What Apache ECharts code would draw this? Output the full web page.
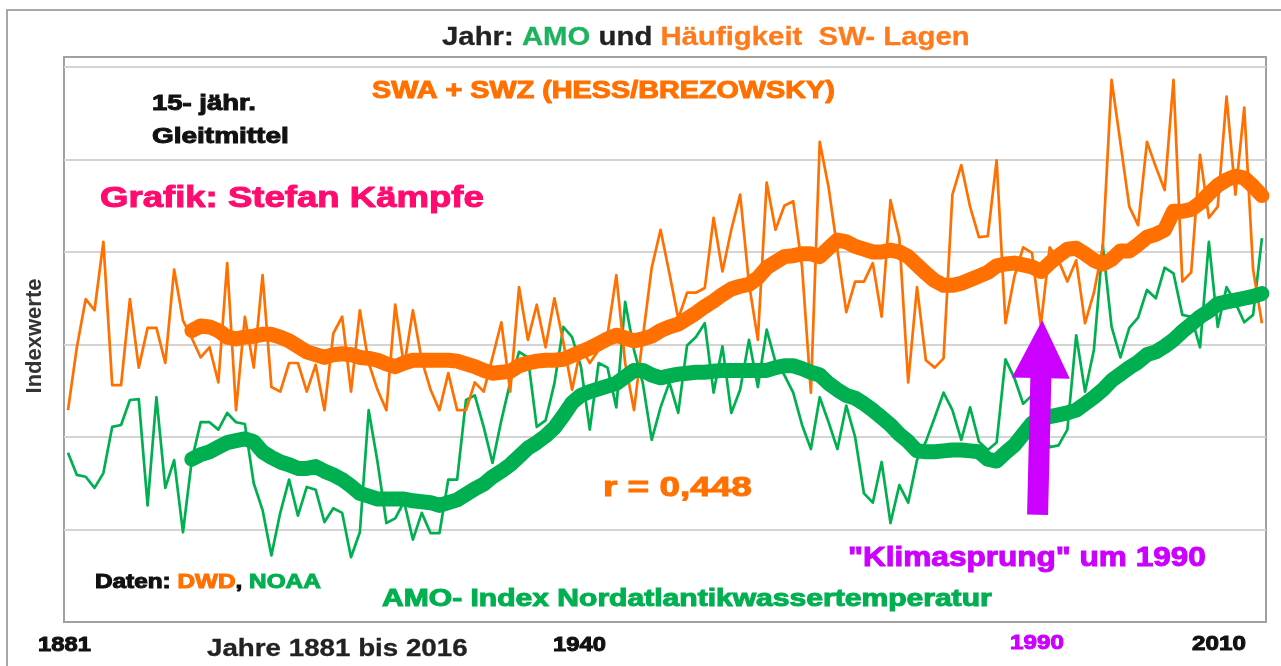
<!DOCTYPE html>
<html>
<head>
<meta charset="utf-8">
<script src="https://cdn.jsdelivr.net/npm/echarts@6/dist/echarts.min.js"></script>
<style>
html,body{margin:0;padding:0;background:#fff;}
#c{width:1281px;height:666px;}
</style>
</head>
<body>
<div id="c"></div>
<script>
// ---------------- DATA ----------------
const firstYear = 1881;
const lastYear = 2016;
const maFirstYear = 1895;

// SWA + SWZ (Hess/Brezowsky), annual, index units
const swLagen = [
  2.29, 2.97, 3.49, 3.37, 4.11, 2.56, 2.56, 3.49, 2.75, 3.18,
  3.18, 2.80, 3.81, 3.26, 3.07, 2.86, 2.97, 2.59, 3.88, 2.29,
  3.30, 2.75, 3.75, 2.54, 2.49, 2.80, 2.80, 2.49, 2.78, 2.29,
  3.12, 3.30, 2.49, 3.37, 2.80, 2.51, 2.29, 3.43, 2.76, 3.37,
  2.83, 2.51, 2.29, 2.69, 2.29, 2.29, 2.59, 2.49, 2.86, 3.24,
  2.49, 3.62, 3.05, 3.43, 2.97, 3.50, 3.03, 2.51, 2.97, 2.80,
  2.94, 3.10, 3.75, 2.80, 2.29, 3.08, 3.83, 4.24, 3.77, 3.28,
  3.56, 3.56, 3.61, 4.37, 3.79, 4.24, 4.62, 3.66, 3.05, 4.75,
  4.24, 4.50, 4.55, 3.84, 2.48, 5.19, 4.70, 4.02, 3.35, 3.68,
  3.68, 3.88, 3.30, 4.56, 4.15, 2.59, 3.62, 2.83, 2.75, 2.85,
  4.62, 4.94, 4.49, 4.16, 4.17, 4.99, 3.23, 3.73, 4.05, 3.99,
  3.21, 4.05, 3.91, 3.68, 3.91, 3.23, 3.56, 4.05, 5.86, 5.18,
  4.49, 4.29, 5.19, 4.92, 4.67, 5.86, 3.68, 3.78, 5.05, 4.37,
  4.49, 5.68, 4.62, 5.56, 3.81, 3.23
];

// AMO index (NOAA), annual, index units
const amo = [
  1.83, 1.59, 1.57, 1.45, 1.61, 2.11, 2.13, 2.40, 2.41, 1.26,
  2.43, 1.45, 1.75, 0.97, 1.75, 2.16, 2.16, 2.08, 2.26, 2.16,
  2.14, 1.50, 1.21, 0.72, 1.18, 1.54, 1.15, 1.46, 1.43, 1.08,
  1.23, 1.18, 0.70, 0.97, 2.29, 1.73, 1.07, 1.12, 1.30, 0.89,
  1.18, 0.96, 0.96, 1.54, 1.54, 2.40, 2.45, 2.11, 1.72, 2.18,
  2.59, 2.92, 2.86, 2.11, 2.18, 2.58, 3.19, 3.08, 2.76, 2.08,
  2.80, 2.75, 2.32, 3.46, 2.94, 2.58, 1.97, 2.32, 2.59, 2.26,
  2.99, 3.08, 3.23, 2.48, 2.98, 2.26, 2.51, 3.05, 2.54, 3.16,
  2.81, 2.67, 2.48, 2.13, 1.87, 2.43, 2.16, 1.87, 2.34, 2.00,
  1.39, 1.29, 1.73, 1.07, 1.48, 1.29, 1.75, 1.95, 2.21, 2.48,
  2.29, 1.97, 2.32, 1.95, 1.86, 1.94, 2.84, 2.64, 2.36, 2.45,
  2.18, 1.89, 1.91, 2.08, 3.10, 2.49, 2.94, 4.08, 3.19, 2.86,
  3.18, 3.29, 3.59, 3.50, 3.83, 3.77, 3.32, 3.30, 2.97, 4.11,
  3.19, 3.62, 3.45, 3.24, 3.32, 4.15
];

// 15-year moving averages (1895-2016), as drawn
const swLagenMA15 = [
  3.15, 3.20, 3.19, 3.15, 3.08, 3.06, 3.08, 3.09, 3.11, 3.11,
  3.08, 3.04, 2.98, 2.92, 2.89, 2.86, 2.89, 2.90, 2.89, 2.86,
  2.85, 2.83, 2.79, 2.76, 2.80, 2.83, 2.83, 2.83, 2.83, 2.83,
  2.82, 2.79, 2.76, 2.72, 2.69, 2.70, 2.71, 2.77, 2.80, 2.82,
  2.83, 2.83, 2.84, 2.88, 2.92, 2.96, 3.01, 3.06, 3.10, 3.07,
  3.04, 3.06, 3.09, 3.15, 3.19, 3.22, 3.28, 3.34, 3.41, 3.47,
  3.54, 3.60, 3.63, 3.65, 3.72, 3.83, 3.89, 3.95, 3.96, 3.98,
  3.98, 3.95, 4.04, 4.13, 4.11, 4.06, 4.03, 4.00, 4.00, 4.02,
  4.00, 3.95, 3.86, 3.77, 3.69, 3.64, 3.64, 3.66, 3.70, 3.74,
  3.78, 3.85, 3.87, 3.88, 3.86, 3.84, 3.79, 3.88, 3.96, 4.03,
  4.04, 3.98, 3.91, 3.87, 3.92, 4.01, 4.01, 4.08, 4.16, 4.19,
  4.24, 4.44, 4.44, 4.46, 4.53, 4.63, 4.72, 4.78, 4.82, 4.80,
  4.71, 4.61
];

const amoMA15 = [
  1.76, 1.81, 1.84, 1.89, 1.94, 1.96, 1.98, 1.95, 1.84, 1.78,
  1.73, 1.70, 1.66, 1.66, 1.68, 1.63, 1.59, 1.54, 1.47, 1.39,
  1.36, 1.33, 1.33, 1.33, 1.33, 1.31, 1.30, 1.29, 1.26, 1.29,
  1.32, 1.38, 1.44, 1.49, 1.57, 1.63, 1.70, 1.79, 1.88, 1.94,
  2.01, 2.10, 2.23, 2.37, 2.45, 2.49, 2.52, 2.55, 2.58, 2.65,
  2.72, 2.72, 2.67, 2.64, 2.66, 2.68, 2.69, 2.70, 2.70, 2.71,
  2.72, 2.72, 2.72, 2.72, 2.72, 2.72, 2.75, 2.77, 2.77, 2.74,
  2.70, 2.67, 2.58, 2.51, 2.45, 2.42, 2.36, 2.29, 2.21, 2.13,
  2.03, 1.95, 1.85, 1.84, 1.84, 1.85, 1.86, 1.86, 1.85, 1.84,
  1.76, 1.74, 1.83, 1.91, 2.03, 2.15, 2.18, 2.22, 2.24, 2.26,
  2.29, 2.36, 2.43, 2.51, 2.61, 2.68, 2.75, 2.81, 2.89, 2.92,
  2.98, 3.05, 3.14, 3.22, 3.30, 3.36, 3.44, 3.46, 3.48, 3.50,
  3.52, 3.55
];

const xTickLabels = ['1881', '1940', '1990', '2010'];
// "Klimasprung" arrow, in data coordinates [year, index]
const arrowFrom = [1990.63, 1.16];
const arrowTo = [1991.08, 2.95];

// ---------------- BUILD ----------------
const years = [];
for (let y = firstYear; y <= lastYear; y++) years.push(y);
const toPairs = (arr, start) => arr.map((v, i) => [start + i, v]);

const ORANGE = '#ff7000';
const GREEN = '#00b050';
const MAGENTA = '#cc00ff';
const PINK = '#ff0a6e';
const FAM = '"Liberation Sans", Arial, sans-serif';

const mctx = document.createElement('canvas').getContext('2d');
function textEl(segs, x0, x1, cy, size, heavy) {
  const font = 'bold ' + size + 'px ' + FAM;
  mctx.font = font;
  const plain = segs.map(s => s[0]).join('');
  const w = mctx.measureText(plain).width + heavy;
  const rich = {};
  let txt = '';
  segs.forEach((s, i) => {
    const r = { fill: s[1], fontSize: size, fontWeight: 'bold', fontFamily: FAM };
    if (heavy > 0) { r.stroke = s[1]; r.lineWidth = heavy; }
    rich['s' + i] = r;
    txt += '{s' + i + '|' + s[0] + '}';
  });
  return {
    type: 'text', x: x0, y: cy, scaleX: (x1 - x0) / w, z: 100, silent: true,
    style: { text: txt, rich: rich, fontSize: size, fontWeight: 'bold', fontFamily: FAM, align: 'left', verticalAlign: 'middle' }
  };
}

const graphics = [
  { type: 'rect', z: 0, silent: true, shape: { x: 7, y: 10, width: 1400, height: 700 },
    style: { fill: null, stroke: '#a8a8a8', lineWidth: 2 } },
  textEl([['Jahr: ', '#222'], ['AMO', '#1db35c'], [' und ', '#222'], ['Häufigkeit  SW- Lagen', '#ff7a1a']], 442, 970, 38, 25, 0.3),
  textEl([['SWA + SWZ (HESS/BREZOWSKY)', ORANGE]], 372, 836, 92, 23, 1),
  textEl([['15- jähr.', '#111']], 152, 257, 104, 22, 1),
  textEl([['Gleitmittel', '#111']], 152, 290, 137, 22, 1),
  textEl([['Grafik: Stefan Kämpfe', PINK]], 100, 485, 199, 30, 1),
  textEl([['r = 0,448', ORANGE]], 603, 753, 488, 28, 1),
  textEl([['"Klimasprung" um 1990', MAGENTA]], 848, 1207, 558, 28, 1),
  textEl([['Daten: ', '#111'], ['DWD', ORANGE], [', ', '#111'], ['NOAA', GREEN]], 95, 322, 583, 19.5, 1),
  textEl([['AMO- Index Nordatlantikwassertemperatur', GREEN]], 382, 993, 600, 23, 1),
  textEl([[xTickLabels[0], '#111']], 38, 92, 645, 21, 1),
  textEl([['Jahre 1881 bis 2016', '#222']], 207, 468, 650, 23, 0.3),
  textEl([[xTickLabels[1], '#111']], 553, 607, 645, 21, 1),
  textEl([[xTickLabels[2], MAGENTA]], 1010, 1065, 643, 21, 1),
  textEl([[xTickLabels[3], '#111']], 1192, 1247, 644, 21, 1),
  { type: 'text', x: 35, y: 336, rotation: Math.PI / 2, z: 100, silent: true,
    style: { text: 'Indexwerte', fontSize: 22, fontWeight: 'bold', fontFamily: FAM, fill: '#333',
             align: 'center', verticalAlign: 'middle' } }
];

const chart = echarts.init(document.getElementById('c'), null, { renderer: 'canvas' });
chart.setOption({
  animation: false,
  backgroundColor: '#ffffff',
  grid: { left: 64, top: 57, width: 1202, height: 565, show: true, borderColor: '#a0a0a0', borderWidth: 2,
          backgroundColor: 'transparent' },
  xAxis: {
    type: 'value', min: 1880.548, max: 2016.46,
    axisLine: { show: false }, axisTick: { show: false }, axisLabel: { show: false }, splitLine: { show: false }
  },
  yAxis: {
    type: 'value', min: 0, max: 6.108, interval: 1,
    axisLine: { show: false }, axisTick: { show: false }, axisLabel: { show: false },
    splitLine: { show: true, lineStyle: { width: 2,
      color: ['#a0a0a0', '#d4d4d4', '#d4d4d4', '#d4d4d4', '#d4d4d4', '#d4d4d4', '#d4d4d4', '#a0a0a0'] } }
  },
  series: [
    { name: 'AMO', type: 'line', data: toPairs(amo, firstYear), showSymbol: false, z: 2,
      lineStyle: { color: GREEN, width: 2.7, join: 'round' }, itemStyle: { color: GREEN } },
    { name: 'SW-Lagen', type: 'line', data: toPairs(swLagen, firstYear), showSymbol: false, z: 3,
      lineStyle: { color: ORANGE, width: 2.7, join: 'round' }, itemStyle: { color: ORANGE } },
    { name: 'AMO 15j', type: 'line', data: toPairs(amoMA15, maFirstYear), showSymbol: false, z: 4,
      lineStyle: { color: GREEN, width: 15, cap: 'round', join: 'round' }, itemStyle: { color: GREEN } },
    { name: 'SW 15j', type: 'line', data: toPairs(swLagenMA15, maFirstYear), showSymbol: false, z: 5,
      lineStyle: { color: ORANGE, width: 15, cap: 'round', join: 'round' }, itemStyle: { color: ORANGE },
      markLine: {
        silent: true, animation: false, symbol: ['none', 'triangle'], symbolSize: 58,
        label: { show: false },
        lineStyle: { color: MAGENTA, width: 21, type: 'solid', opacity: 1 },
        emphasis: { disabled: true },
        data: [[{ coord: arrowFrom }, { coord: arrowTo }]]
      } }
  ],
  graphic: graphics
});
</script>
</body>
</html>
